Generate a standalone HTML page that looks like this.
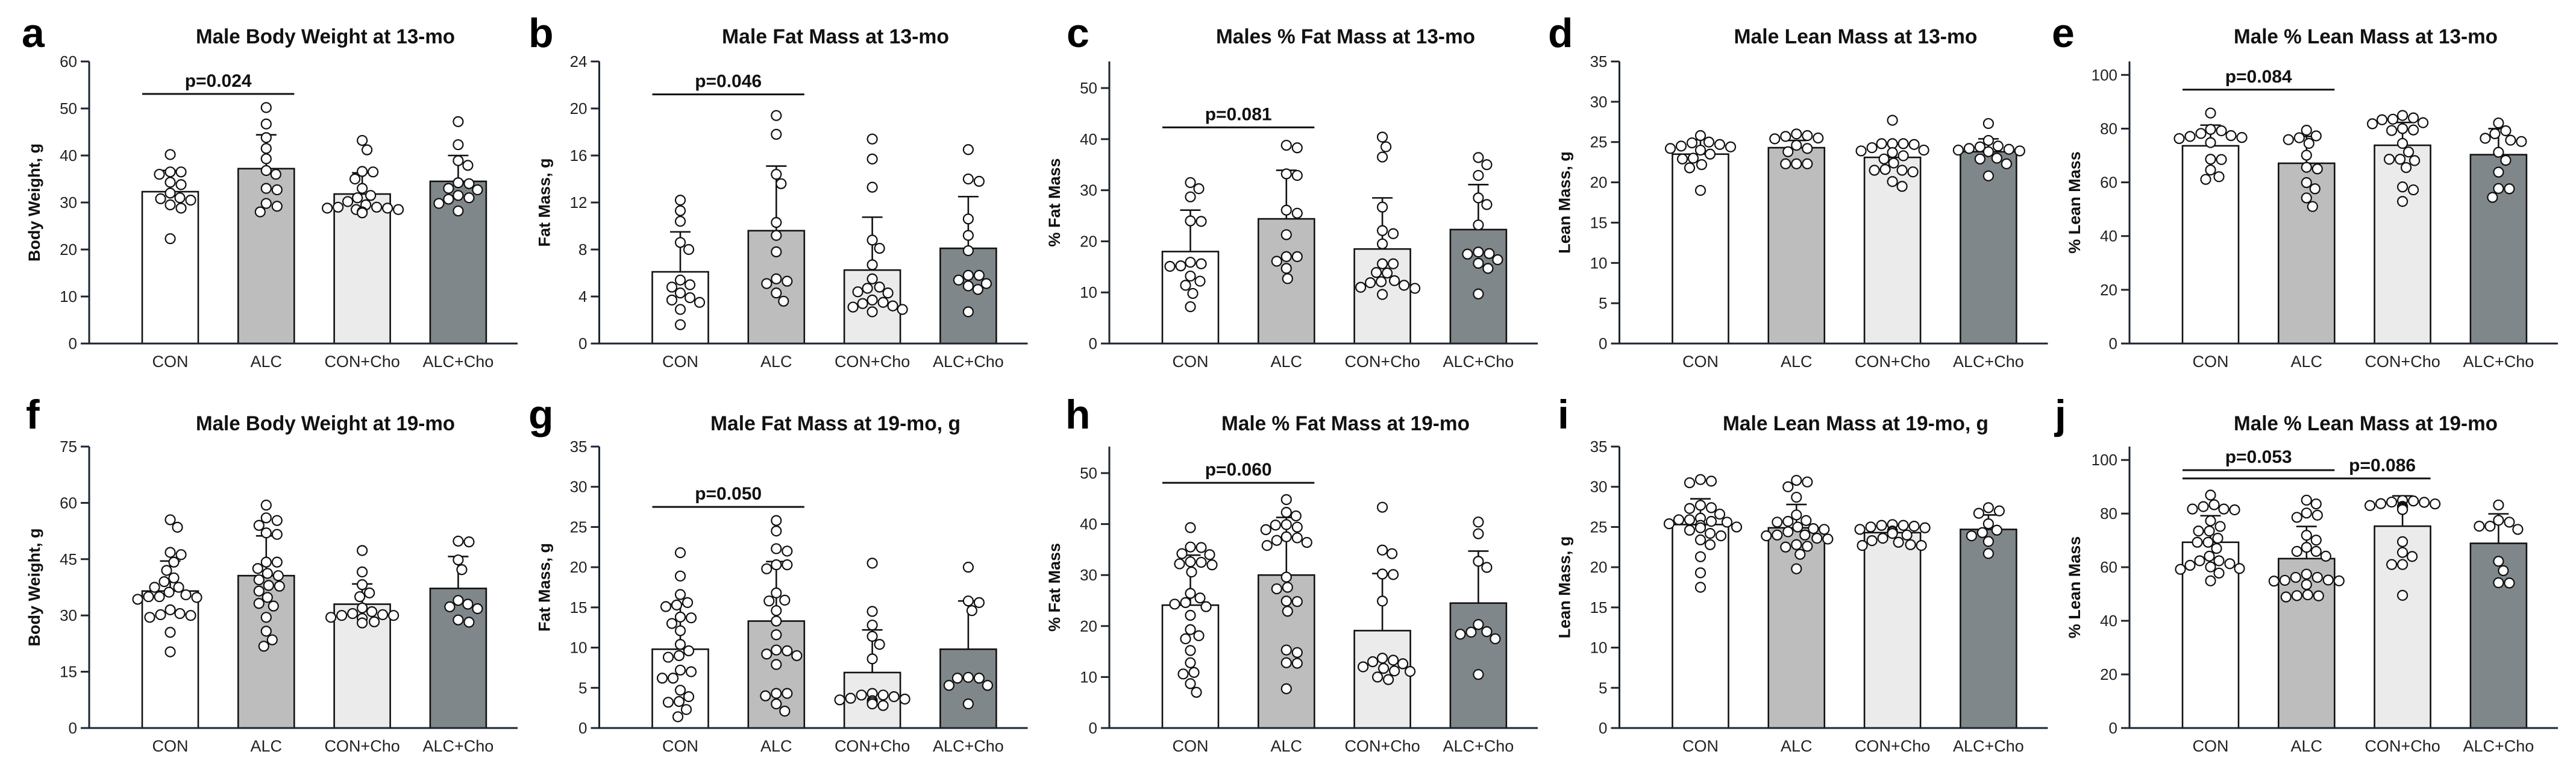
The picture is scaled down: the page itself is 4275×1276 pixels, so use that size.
<!DOCTYPE html>
<html><head><meta charset="utf-8"><style>
html,body{margin:0;padding:0;background:#fff}
svg{display:block}
</style></head><body>
<svg id="fig" xmlns="http://www.w3.org/2000/svg" width="4275" height="1276" viewBox="0 0 4275 1276"></svg>
<script>
const groups = ["CON","ALC","CON+Cho","ALC+Cho"];
const panelLetters = ["a","b","c","d","e","f","g","h","i","j"];
const panelTitles = ["Male Body Weight at 13-mo","Male Fat Mass at 13-mo","Males % Fat Mass at 13-mo","Male Lean Mass at 13-mo","Male % Lean Mass at 13-mo","Male Body Weight at 19-mo","Male Fat Mass at 19-mo, g","Male % Fat Mass at 19-mo","Male Lean Mass at 19-mo, g","Male % Lean Mass at 19-mo"];
const yTitles = ["Body Weight, g","Fat Mass, g","% Fat Mass","Lean Mass, g","% Lean Mass","Body Weight, g","Fat Mass, g","% Fat Mass","Lean Mass, g","% Lean Mass"];
const yMax = [60,24,55.2,35,105,75,35,55.2,35,105];
const yTicks = [[0,10,20,30,40,50,60],[0,4,8,12,16,20,24],[0,10,20,30,40,50],[0,5,10,15,20,25,30,35],[0,20,40,60,80,100],[0,15,30,45,60,75],[0,5,10,15,20,25,30,35],[0,10,20,30,40,50],[0,5,10,15,20,25,30,35],[0,20,40,60,80,100]];
const means = [[32.3,37.2,31.8,34.5],[6.1,9.6,6.25,8.1],[18,24.4,18.5,22.3],[23.5,24.3,23.1,23.8],[73.6,67.1,73.8,70.3],[36.5,40.6,33,37.2],[9.8,13.3,6.9,9.8],[24.1,30,19.1,24.5],[25.3,24.9,24.3,24.7],[69.3,63.2,75.3,68.9]];
const sds = [[4.5,7.2,4.5,5.5],[3.4,5.5,4.5,4.4],[8.1,9.5,10,8.8],[1.8,0.9,1.6,1.6],[7.7,10,8.5,9.7],[8,10.6,5.4,8.5],[5.6,7.4,5.3,6],[9.8,11.3,11.2,10.2],[3.2,2.9,0.9,1.8],[9.9,12,11.3,11]];
const points = [
 [[40.2,36,36.5,36.5,33.8,34.3,32,31,30.8,30.5,29.5,28.8,22.3],[50.2,46.7,43.8,41.5,39.3,36.8,36,33,32.7,29.8,29.2,28],[43.2,41.2,36.6,36.5,35,33,31.5,31,30.2,29.5,29,29,28.8,28.8,28.5,28.5,28,27.8],[47.2,42.3,38.9,37.9,34.2,34,33,32.7,31.5,31,30.7,29.8,28.2]],
 [[12.2,11.3,10.4,8.6,8,5.4,5,4.8,4.3,3.9,3.7,3.5,2.9,1.6],[19.4,17.8,14.4,13.6,10.3,9.2,7.8,5.5,5.3,5.1,4.3,3.6],[17.4,15.7,13.3,8.8,8.1,6.7,5.5,4.8,4.7,4.3,4.4,3.7,3.5,3.4,3.2,3.1,2.9,2.7],[16.5,14,13.8,10.6,9.2,7.9,5.8,5.8,5.4,5.1,4.9,4.6,2.7]],
 [[31.5,30.3,28.7,24,23.9,15.9,15.6,15.2,15.1,13.2,12.2,11.4,9.8,7.2],[38.8,38.3,33.2,32.9,26.1,25.5,21.3,17,17,16.1,14.7,12.7],[40.4,38.5,36.5,26.7,22.1,21.5,19.5,15.6,15.6,13.8,13.9,12.1,11.9,12.3,11.4,11,10.8,9.6],[36.4,35,32.9,28.5,27.2,23.2,17.9,17.6,17.5,16.4,15.7,14.7,9.7]],
 [[25.8,25,24.9,24.7,24.5,24.4,24.2,24,23.5,23,22.9,22.2,21.8,19],[26,25.8,25.7,25.5,25.4,24.6,24.2,23.8,22.3,22.3,22.3],[27.7,24.8,24.8,24.8,24.7,24.3,24,23.9,23.7,23.3,22.9,22.4,21.6,21.5,21.5,21.3,20.1,19.5],[27.3,25.2,24.5,24.4,24.2,24.1,24,23.9,23.8,23,22.9,22.3,20.8]],
 [[85.8,79.7,79.2,78.2,77.4,77.1,76.7,76.3,74.8,68.5,68.6,64.6,62.1,61.1],[79.4,77.3,76.6,75.9,74.5,70.1,65.6,65,59.9,57.6,54.2,51],[84.9,84,83.5,83.3,82.2,81.8,80,79.5,79.3,74.5,71.3,68.6,68.6,68.1,65.5,58.3,57.2,52.9],[82.1,79.2,78.1,76.4,75.7,75.2,71.2,68.2,63.8,57.7,57.6,54.4]],
 [[55.5,53.5,46.8,46.2,44.2,42,40,39,37.5,37.5,36.2,35.5,35,35,34.8,34.3,31.5,30.5,30.2,30,29.5,25.5,20.3],[59.4,56,55.3,54,52,51.6,44.2,44.2,42.5,41.2,40.6,39.5,38,37.8,36.5,34.8,33.2,32.5,29.5,25.8,23.5,21.8],[47.3,41.6,38.2,36,35,32,31,30.5,30.2,30,30,29.5,29.2,28.3,28],[49.8,49.6,44.8,42.2,34,33,32.3,31.8,28.8,28.2]],
 [[21.8,18.9,16.6,15.6,15.3,15.1,13.8,13.7,13,12.1,10.4,9.6,8.8,9,7.2,7,6.2,6.2,4.7,3.9,3.2,3.3,2.3,1.4],[25.8,24.5,22.3,22,20.3,20.3,19.8,16.8,15.9,15.8,14.6,13.3,11.6,9.6,9.7,9,9.2,7.9,4.3,4.3,4,3,2.1],[20.5,14.5,12.8,11.4,10.4,8.6,4.3,4.1,3.7,3.9,3.5,3.2,3.6,3,2.8,4.1,3.4],[20,15.8,15.6,14.6,6.2,6.3,6.2,5.3,5.3,3]],
 [[39.3,35.4,35.5,34.2,34,32.6,32.2,32,32.5,30.6,26.4,25.5,24.6,24.3,23.8,22.1,19.3,18.1,17.5,15.2,12.8,10.9,10.6,8.7,7],[44.8,42.3,41.6,39.9,39.4,39.8,38.9,37.3,37.5,36.8,36.4,35.8,29.6,27.3,27.6,24.8,24.9,22.9,15.3,14.8,12.8,12.7,7.7],[43.3,34.9,34.2,30.2,30.1,24.9,13.7,13,13.3,12.6,12,11.7,11.2,11.1,10,9.5],[40.4,38.1,32.7,31.5,20.3,18.9,18.8,18.4,17.5,10.5]],
 [[30.9,30.7,30.5,27.7,27.4,27.3,26.6,26.1,25.9,25.9,25.7,25.6,25.4,25.2,25,24.9,24.6,24.2,23.9,23.4,22.8,21.3,19.3,17.5],[30.8,30.6,30,28.7,26.5,25.8,25.7,25.6,25,24.8,24.7,24.4,24,24,23.9,23.6,23.5,22.8,22.6,22.5,21.6,19.8],[25.3,25.2,25.2,25.1,25,24.9,24.7,24.5,24.4,24.2,24,23.6,23.3,23.1,22.8,22.7,22.7],[27.4,27,26.7,25.4,24.6,24.3,23.9,23.2,21.7]],
 [[86.9,83.3,82.6,81.7,81.7,81.4,77.3,75.2,73.5,73.5,70.8,69.3,69.3,67,64.1,62.4,62.4,61.3,60.7,60.1,59.5,59.2,57.8,54.9],[85,83.6,80.2,78.6,79.4,71.9,70.1,67.4,65.9,65.9,64.1,57.4,56.2,56.2,55.2,55.1,54.8,54.9,53.5,49.7,49.3,48.9,49.4],[84.9,84.7,84.3,84.2,83.7,83.6,83,82.7,82.3,82.1,81.8,81.5,69.5,65.5,64,61,61,49.5],[83.2,77.5,76.8,75.3,75.3,74.1,62.2,58.7,54.1,54.2]]
];
// significance brackets
const sigPanels = [0,1,2,4,6,7,9,9];
const sigFrom = [0,0,0,0,0,0,0,0];
const sigTo = [1,1,1,1,1,1,1,2];
const sigValue = [53.1,21.2,42.3,94.5,27.5,48.1,96.2,93.1];
const sigLabel = ["p=0.024","p=0.046","p=0.081","p=0.084","p=0.050","p=0.060","p=0.053","p=0.086"];
const sigLabelPos = [0.5,0.5,0.5,0.5,0.5,0.5,0.5,1.79];

const NS="http://www.w3.org/2000/svg";
const svg=document.getElementById('fig');
const fills=["#ffffff","#bdbdbd","#ebebeb","#80878a"];
const titleW=[430,377,430,404,438,430,415,412,441,438];
const letterX=[36,877,1770,2569,3405,43,877,1768,2585,3410];
const FONT='"Liberation Sans", Arial, sans-serif';
function mk(tag,attrs,parent){const e=document.createElementNS(NS,tag);for(const k in attrs)e.setAttribute(k,attrs[k]);(parent||svg).appendChild(e);return e;}

const panelG=[];
for(let p=0;p<10;p++){
  const row=Math.floor(p/5), col=p%5;
  const ax=148+col*846.5;
  const y0=row?1208:570, yTop=row?741:102;
  const H=y0-yTop;
  const ys=v=>y0-v/yMax[p]*H;
  const xc=g=>ax+88+46.5+g*159.3;
  const g=mk('g',{});
  
  
  panelG.push({ys,xc,g,y0});
  const L=mk('text',{x:letterX[p],y:row?711:78,'font-family':FONT,'font-weight':'bold','font-size':68,fill:'#000'},g);
  L.textContent=panelLetters[p];
  
  
  const T=mk('text',{x:ax+392,y:row?714:72,'text-anchor':'middle','font-family':FONT,'font-weight':'bold','font-size':34,textLength:titleW[p],lengthAdjust:'spacingAndGlyphs',fill:'#111'},g);
  T.textContent=panelTitles[p];
  
  
  const YT=mk('text',{x:0,y:0,transform:`translate(${ax-82},${(y0+yTop)/2}) rotate(-90)`,'text-anchor':'middle','font-family':FONT,'font-weight':'bold','font-size':27,fill:'#111'},g);
  YT.textContent=yTitles[p];
  
  
  for(let k=0;k<4;k++){
    const top=ys(means[p][k]);
    const r=mk('rect',{x:xc(k)-46.5,y:top,width:93,height:y0-top,fill:fills[k],stroke:'#111','stroke-width':2.6},g);
    
    
    const eT=ys(means[p][k]+sds[p][k]);
    const e1=mk('line',{x1:xc(k),x2:xc(k),y1:top,y2:eT,stroke:'#111','stroke-width':2.6},g);
    
    
    const e2=mk('line',{x1:xc(k)-17,x2:xc(k)+17,y1:eT,y2:eT,stroke:'#111','stroke-width':2.6},g);
    
    
    const xl=mk('text',{x:xc(k),y:y0+39,'text-anchor':'middle','font-family':FONT,'font-size':27,fill:'#222'},g);
    xl.textContent=groups[k];
    
    
  }
  for(let k=0;k<4;k++){
    const vals=points[p][k].slice().sort((a,b)=>b-a);
    const placed=[];const R=8;
    vals.forEach(v=>{
      const y=ys(v);let off=0;
      for(let s=0;s<60;s++){
        const cand=(s%2?1:-1)*Math.ceil(s/2)*2;
        if(placed.every(q=>Math.hypot(q[0]-cand,q[1]-y)>=2*R+1)){off=cand;break;}
      }
      placed.push([off,y]);
      const c=mk('circle',{cx:xc(k)+off,cy:y,r:R,fill:'#fff',stroke:'#111','stroke-width':2.2},g);
      
      
    });
  }
  const ya=mk('line',{x1:ax,x2:ax,y1:yTop,y2:y0,stroke:'#1c2533','stroke-width':3},g);
  
  
  const xa=mk('line',{x1:ax-14,x2:ax+711,y1:y0,y2:y0,stroke:'#1c2533','stroke-width':3},g);
  
  
  yTicks[p].forEach(t=>{
    const ty=ys(t);
    const tl=mk('line',{x1:ax-14,x2:ax,y1:ty,y2:ty,stroke:'#1c2533','stroke-width':3},g);
    
    
    const tt=mk('text',{x:ax-20,y:ty+9,'text-anchor':'end','font-family':FONT,'font-size':26,fill:'#222'},g);
    tt.textContent=t;
    
    
  });
}
for(let s=0;s<sigPanels.length;s++){
  const P=panelG[sigPanels[s]];
  const y=P.ys(sigValue[s]);
  const l=mk('line',{x1:P.xc(sigFrom[s])-46.5,x2:P.xc(sigTo[s])+46.5,y1:y,y2:y,stroke:'#111','stroke-width':3},P.g);
  
  
  const t=mk('text',{x:P.xc(0)+sigLabelPos[s]*159.3,y:y-12,'text-anchor':'middle','font-family':FONT,'font-weight':'bold','font-size':30,fill:'#111'},P.g);
  t.textContent=sigLabel[s];
  
  
}
</script>
</body></html>
